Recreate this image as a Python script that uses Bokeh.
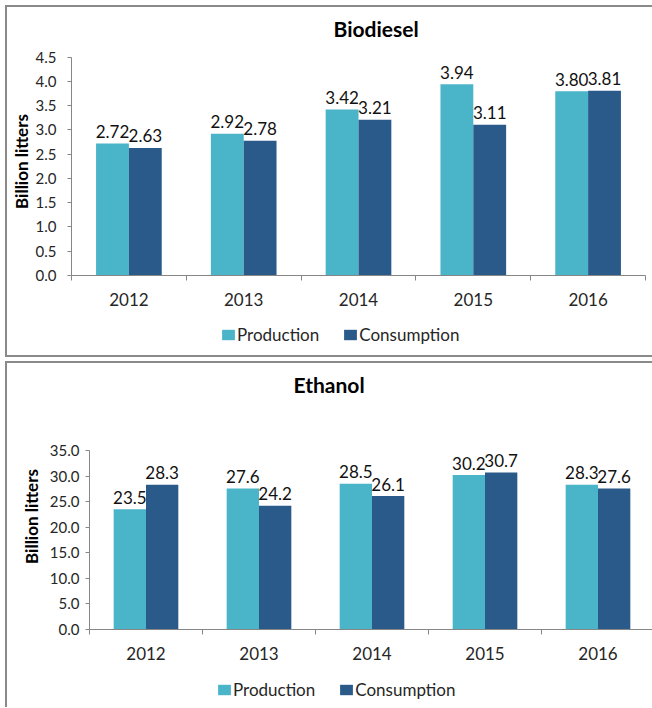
from bokeh.plotting import figure
from bokeh.models import (Range1d, LinearAxis, FixedTicker,
                          ColumnDataSource, Legend, LegendItem, Title, NumeralTickFormatter)
from bokeh.transform import dodge
from bokeh.core.properties import value
from bokeh.embed import file_html
from bokeh.resources import INLINE

years = ["2012", "2013", "2014", "2015", "2016"]
series = ["Production", "Consumption"]
bio_prod = [2.72, 2.92, 3.42, 3.94, 3.80]
bio_cons = [2.63, 2.78, 3.21, 3.11, 3.81]
eth_prod = [23.5, 27.6, 28.5, 30.2, 28.3]
eth_cons = [28.3, 24.2, 26.1, 30.7, 27.6]
bio_ticks = [0.0, 0.5, 1.0, 1.5, 2.0, 2.5, 3.0, 3.5, 4.0, 4.5]
eth_ticks = [0.0, 5.0, 10.0, 15.0, 20.0, 25.0, 30.0, 35.0]

C_PROD = "#4AB4C8"
C_CONS = "#295A8A"
FONT = "Lato"
AXC = "#868686"
TXT = "#262626"
BORDER = "2px solid #8a8a8a"


def make_source(prod, cons, dec):
    n = len(years)
    centers = [i + 0.5 for i in range(n)]      # category slots on a 0..n axis
    return ColumnDataSource(dict(
        x=centers, prod=prod, cons=cons,
        prod_lbl=[f"{v:.{dec}f}" for v in prod],
        cons_lbl=[f"{v:.{dec}f}" for v in cons])), centers


def make_chart(title, src, centers, ticks, ymax, yend, width, height,
               mb, title_off, title_so, ylab_so, ytick_so, margin, styles):
    n = len(years)
    bounds = [float(i) for i in range(n + 1)]  # slot boundaries
    p = figure(x_range=Range1d(0, n), y_range=Range1d(0, yend),
               width=width, height=height,
               output_backend="svg", toolbar_location=None, tools="",
               x_axis_location=None, y_axis_location=None,
               min_border_left=mb[0], min_border_right=mb[1],
               min_border_top=mb[2], min_border_bottom=mb[3],
               margin=margin, styles=styles)
    p.outline_line_color = None
    p.grid.visible = False
    p.background_fill_color = "white"
    p.border_fill_color = "white"

    yax = LinearAxis(ticker=FixedTicker(ticks=ticks), bounds=(0, ymax),
                     formatter=NumeralTickFormatter(format="0.0"),
                     axis_label="Billion litters")
    yax.axis_line_color = AXC
    yax.major_tick_line_color = AXC
    yax.major_tick_in = 0
    yax.major_tick_out = 4
    yax.minor_tick_line_color = None
    yax.major_label_text_font = FONT
    yax.major_label_text_font_size = "15px"
    yax.major_label_text_color = TXT
    yax.major_label_standoff = ytick_so
    yax.axis_label_text_font = FONT
    yax.axis_label_text_font_size = "17px"
    yax.axis_label_text_font_style = "bold"
    yax.axis_label_text_color = "black"
    yax.axis_label_standoff = ylab_so
    p.add_layout(yax, "left")

    xax = LinearAxis(ticker=FixedTicker(ticks=centers, minor_ticks=bounds),
                     major_label_overrides={c: y for c, y in zip(centers, years)})
    xax.axis_line_color = AXC
    xax.major_tick_line_color = None
    xax.major_tick_in = 0
    xax.major_tick_out = 0
    xax.minor_tick_line_color = AXC
    xax.minor_tick_in = 0
    xax.minor_tick_out = 5
    xax.major_label_text_font = FONT
    xax.major_label_text_font_size = "17px"
    xax.major_label_text_color = TXT
    xax.major_label_standoff = 12
    p.add_layout(xax, "below")

    p.vbar(x=dodge("x", -0.143), top="prod", width=0.286,
           source=src, fill_color=C_PROD, line_color=None)
    p.vbar(x=dodge("x", 0.143), top="cons", width=0.286,
           source=src, fill_color=C_CONS, line_color=None)
    for col, lbl, off in (("prod", "prod_lbl", -0.143), ("cons", "cons_lbl", 0.143)):
        p.text(x=dodge("x", off), y=col, text=lbl, source=src,
               text_align="center", text_baseline="alphabetic", y_offset=-12,
               text_font=value(FONT), text_font_size="17px", text_color="#111111")

    p.add_layout(Title(text=title, align="left", offset=title_off, standoff=title_so,
                       text_font=FONT, text_font_size="21px", text_font_style="bold",
                       text_color="black"), "above")
    return p


def make_legend(src, width, height, loc, styles):
    # legend strip: same bar renderers, viewed outside the data so only the legend shows
    lp = figure(x_range=Range1d(-2, -1), y_range=Range1d(-2, -1), width=width, height=height,
                output_backend="svg", toolbar_location=None, tools="",
                x_axis_location=None, y_axis_location=None,
                min_border=0, min_border_left=0, min_border_right=0,
                min_border_top=0, min_border_bottom=0, styles=styles,
                margin=(0, 0, 0, 5))
    lp.outline_line_color = None
    lp.grid.visible = False
    r1 = lp.vbar(x="x", top="prod", width=0.286, source=src, fill_color=C_PROD, line_color=None)
    r2 = lp.vbar(x="x", top="cons", width=0.286, source=src, fill_color=C_CONS, line_color=None)
    leg = Legend(items=[LegendItem(label=series[0], renderers=[r1]),
                        LegendItem(label=series[1], renderers=[r2])],
                 orientation="horizontal", location=loc,
                 glyph_width=16, glyph_height=13, label_standoff=1, spacing=23,
                 padding=0, margin=0, border_line_color=None,
                 background_fill_alpha=0,
                 label_text_font=FONT, label_text_font_size="17px",
                 label_text_color=TXT)
    lp.add_layout(leg, "center")
    return lp


bio_src, bio_x = make_source(bio_prod, bio_cons, 2)
eth_src, eth_x = make_source(eth_prod, eth_cons, 1)

p1 = make_chart("Biodiesel", bio_src, bio_x, bio_ticks, 4.5, 4.7,
                647, 310, (64, 9, 39, 42), 262, 13, 1, 11,
                (5, 0, 0, 5), {"border-left": BORDER, "border-top": BORDER})
l1 = make_legend(bio_src, 647, 42, (213, 12),
                 {"border-left": BORDER, "border-bottom": BORDER})
p2 = make_chart("Ethanol", eth_src, eth_x, eth_ticks, 35, 44.2,
                647, 307, (82, 0, 40, 41), 204, 13, 5, 6,
                (4, 0, 0, 5), {"border-left": BORDER, "border-top": BORDER})
l2 = make_legend(eth_src, 647, 39, (209, 7), {"border-left": BORDER})

open("out.html", "w").write(file_html([p1, l1, p2, l2], INLINE))
